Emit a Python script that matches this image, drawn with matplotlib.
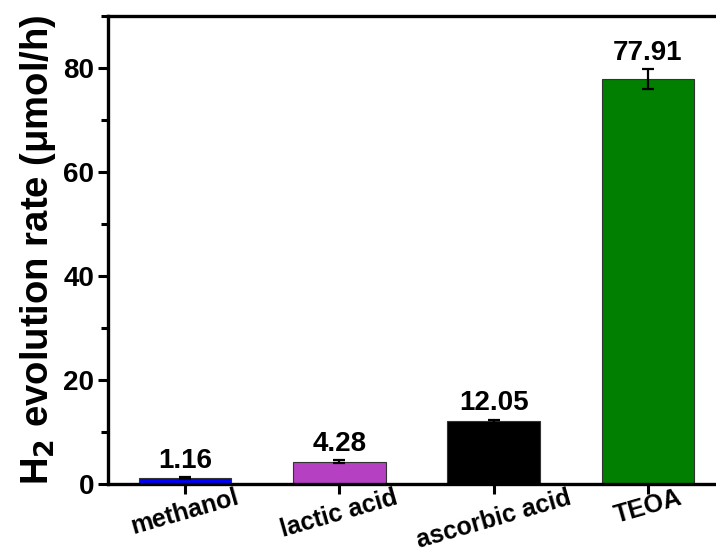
import matplotlib
matplotlib.use("Agg")
import matplotlib.pyplot as plt
from matplotlib.ticker import MultipleLocator

plt.rcParams['font.family'] = ['Liberation Sans', 'DejaVu Sans']
plt.rcParams['font.weight'] = 'bold'
plt.rcParams['mathtext.default'] = 'bf'

# H2 evolution with different sacrificial agents
agents = ["methanol", "lactic acid", "ascorbic acid", "TEOA"]
rates = [1.16, 4.28, 12.05, 77.91]
errors = [0.15, 0.25, 0.35, 1.95]
colors = ["#0000ff", "#b540c2", "#000000", "#007f00"]

fig = plt.figure(figsize=(7.16, 5.54), dpi=100)
ax = fig.add_axes([108 / 716, 1 - 484 / 554, (725 - 108) / 716, (484 - 16) / 554])

x = range(len(agents))
ax.bar(x, rates, width=0.6, color=colors, edgecolor="#333333", linewidth=0.8,
       yerr=errors, capsize=4, error_kw=dict(elinewidth=1.6, capthick=1.6, ecolor="black"))

for xi, r, e in zip(x, rates, errors):
    ax.text(xi, r + e + 0.6, f"{r:.2f}", ha="center", va="bottom",
            fontsize=20, fontweight="bold")

ax.set_xlim(-0.5, 3.5)
ax.set_ylim(0, 90)
ax.set_xticks(list(x))
ax.set_xticklabels(agents, rotation=16, fontsize=18, fontweight="bold")
ax.yaxis.set_major_locator(MultipleLocator(20))
ax.yaxis.set_minor_locator(MultipleLocator(10))
ax.tick_params(axis="y", which="major", length=7, width=2.2, labelsize=20, pad=3)
ax.tick_params(axis="y", which="minor", length=5, width=2.2)
ax.tick_params(axis="x", which="major", length=7, width=2.2, pad=-6)
for lab in ax.get_yticklabels():
    lab.set_fontweight("bold")

for s in ax.spines.values():
    s.set_linewidth(2.4)

ax.set_ylabel("H$_2$ evolution rate (\u03bcmol/h)", fontsize=27.5, fontweight="bold", labelpad=4)

fig.savefig("out.png", dpi=100)
